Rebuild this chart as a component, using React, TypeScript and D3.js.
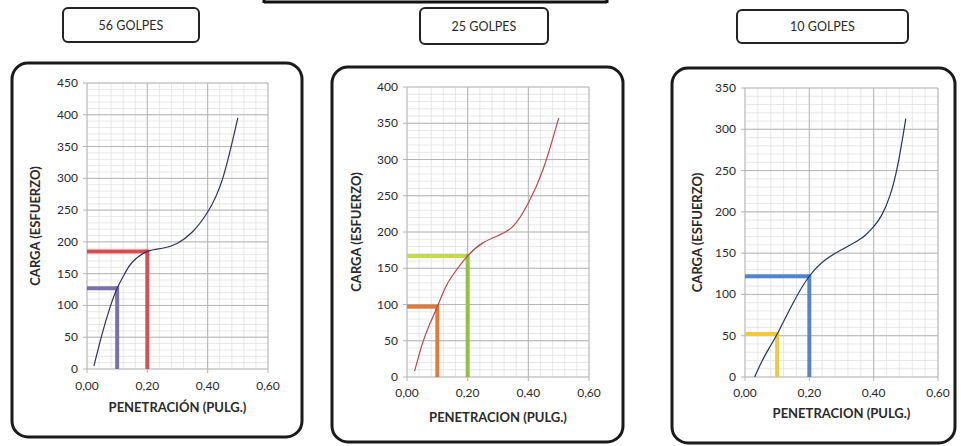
import React from "react";
import * as d3 from "d3";

// ---------- DATA ----------
const titles = ["56 GOLPES", "25 GOLPES", "10 GOLPES"];
const xTitles = ["PENETRACIÓN (PULG.)", "PENETRACION (PULG.)", "PENETRACION (PULG.)"];
const yTitle = "CARGA (ESFUERZO)";
const xTicks = [0, 0.2, 0.4, 0.6];
const yMaxes = [450, 400, 350];

const pen56 = [0.023, 0.05, 0.075, 0.1, 0.125, 0.15, 0.2, 0.25, 0.3, 0.35, 0.4, 0.45, 0.5];
const load56 = [5, 55, 95, 127, 150, 168, 185, 190, 198, 216, 247, 300, 395];

const pen25 = [0.025, 0.05, 0.075, 0.1, 0.125, 0.15, 0.2, 0.25, 0.3, 0.35, 0.4, 0.45, 0.5];
const load25 = [8, 45, 73, 97, 122, 140, 167, 185, 195, 208, 240, 288, 357];

const pen10 = [0.03, 0.05, 0.075, 0.1, 0.15, 0.2, 0.25, 0.3, 0.35, 0.375, 0.4, 0.425, 0.45, 0.475, 0.5];
const load10 = [0, 17, 35, 52, 90, 122, 142, 154, 165, 172, 182, 196, 219, 257, 313];

// reference lines: [penetration, load]
const ref56 = [[0.1, 127], [0.2, 185]];
const ref25 = [[0.1, 97], [0.2, 167]];
const ref10 = [[0.1, 52], [0.2, 122]];

// ---------- STYLE / LAYOUT ----------
const W = 961;
const H = 446;
const FONT = "Lato, 'Open Sans', sans-serif";

type PanelCfg = {
  frame: [number, number, number, number];
  titleBox: [number, number, number, number];
  plot: { x0: number; x1: number; yTop: number; yBot: number };
  yTitleX: number;
  xLabelY: number;
  xTitleY: number;
  curveColor: string;
  refColors: string[];
  refHColors: string[];
};

const panels: PanelCfg[] = [
  {
    frame: [12, 63, 302, 437],
    titleBox: [63, 8, 199, 42],
    plot: { x0: 87, x1: 268, yTop: 83, yBot: 369 },
    yTitleX: 40,
    xLabelY: 390,
    xTitleY: 412,
    curveColor: "#2e3160",
    refColors: ["#7b70ab", "#d44f55"],
    refHColors: ["#7b70ab", "#d44f55"],
  },
  {
    frame: [332, 67, 623, 442],
    titleBox: [420, 8, 548, 44],
    plot: { x0: 407, x1: 589, yTop: 87, yBot: 377 },
    yTitleX: 361,
    xLabelY: 397,
    xTitleY: 422,
    curveColor: "#b8474e",
    refColors: ["#e0793a", "#92c140"],
    refHColors: ["#e0793a", "#c4da4c"],
  },
  {
    frame: [672, 68, 955, 443],
    titleBox: [737, 10, 908, 43],
    plot: { x0: 745, x1: 938, yTop: 88, yBot: 377 },
    yTitleX: 702,
    xLabelY: 397,
    xTitleY: 418,
    curveColor: "#1f3563",
    refColors: ["#f2c83c", "#5186cf"],
    refHColors: ["#f2c83c", "#5186cf"],
  },
];

const dataSets = [
  { pen: pen56, load: load56, ref: ref56 },
  { pen: pen25, load: load25, ref: ref25 },
  { pen: pen10, load: load10, ref: ref10 },
];

function Panel({ i }: { i: number }) {
  const cfg = panels[i];
  const ds = dataSets[i];
  const yMax = yMaxes[i];
  const x = d3.scaleLinear().domain([0, 0.6]).range([cfg.plot.x0, cfg.plot.x1]);
  const y = d3.scaleLinear().domain([0, yMax]).range([cfg.plot.yBot, cfg.plot.yTop]);
  const yTicks = d3.range(0, yMax + 1, 50);
  const minorX = d3.range(0, 0.6001, 0.04);
  const minorY = d3.range(0, yMax + 0.1, 10);
  const pts: [number, number][] = ds.pen.map((p, k) => [p, ds.load[k]]);
  const line = d3
    .line<[number, number]>()
    .x((d) => x(d[0]))
    .y((d) => y(d[1]))
    .curve(d3.curveNatural);
  const [fx0, fy0, fx1, fy1] = cfg.frame;
  const [tx0, ty0, tx1, ty1] = cfg.titleBox;
  const yMid = (cfg.plot.yTop + cfg.plot.yBot) / 2;
  return (
    <g>
      {/* title box */}
      <rect x={tx0} y={ty0} width={tx1 - tx0} height={ty1 - ty0} rx={5} fill="#fff" stroke="#222" strokeWidth={2} />
      <text x={(tx0 + tx1) / 2} y={(ty0 + ty1) / 2 + 4.5} textAnchor="middle" fontFamily={FONT} fontSize={12.5} fill="#2a2a2a">
        {titles[i]}
      </text>
      {/* frame */}
      <rect x={fx0} y={fy0} width={fx1 - fx0} height={fy1 - fy0} rx={16} fill="#fff" stroke="#1a1a1a" strokeWidth={3} />
      {/* minor grid */}
      {minorX.map((v, k) => (
        <line key={"mx" + k} x1={x(v)} x2={x(v)} y1={y(0)} y2={y(yMax)} stroke="#e2e2e2" strokeWidth={0.8} />
      ))}
      {minorY.map((v, k) => (
        <line key={"my" + k} x1={x(0)} x2={x(0.6)} y1={y(v)} y2={y(v)} stroke="#e2e2e2" strokeWidth={0.8} />
      ))}
      {/* major grid */}
      {xTicks.map((v, k) => (
        <line key={"gx" + k} x1={x(v)} x2={x(v)} y1={y(0)} y2={y(yMax)} stroke="#b5b5b5" strokeWidth={1} />
      ))}
      {yTicks.map((v, k) => (
        <line key={"gy" + k} x1={x(0) - 4} x2={x(0.6)} y1={y(v)} y2={y(v)} stroke="#b5b5b5" strokeWidth={1} />
      ))}
      {xTicks.map((v, k) => (
        <line key={"tx" + k} x1={x(v)} x2={x(v)} y1={y(0)} y2={y(0) + 4} stroke="#b5b5b5" strokeWidth={1} />
      ))}
      {/* tick labels */}
      {yTicks.map((v, k) => (
        <text key={"ly" + k} x={x(0) - 9} y={y(v) + 4} textAnchor="end" fontFamily={FONT} fontSize={12} fill="#2a2a2a">
          {v}
        </text>
      ))}
      {xTicks.map((v, k) => (
        <text key={"lx" + k} x={x(v)} y={cfg.xLabelY} textAnchor="middle" fontFamily={FONT} fontSize={12} fill="#2a2a2a">
          {d3.format(".2f")(v).replace(".", ",")}
        </text>
      ))}
      {/* axis titles */}
      <text x={(x(0) + x(0.6)) / 2} y={cfg.xTitleY} textAnchor="middle" fontFamily={FONT} fontSize={13} fontWeight="bold" fill="#2a2a2a">
        {xTitles[i]}
      </text>
      <text
        transform={`translate(${cfg.yTitleX},${yMid}) rotate(-90)`}
        textAnchor="middle"
        fontFamily={FONT}
        fontSize={13}
        fontWeight="bold"
        fill="#2a2a2a"
      >
        {yTitle}
      </text>
      {/* reference lines */}
      {ds.ref.map((r, k) => (
        <g key={"ref" + k}>
          <line x1={x(0)} x2={x(r[0])} y1={y(r[1])} y2={y(r[1])} stroke={cfg.refHColors[k]} strokeWidth={4} />
          <line x1={x(r[0])} x2={x(r[0])} y1={y(r[1]) - 2} y2={y(0)} stroke={cfg.refColors[k]} strokeWidth={4} />
        </g>
      ))}
      {/* curve */}
      <path d={line(pts) || ""} fill="none" stroke={cfg.curveColor} strokeWidth={1.2} />
    </g>
  );
}

export default function App() {
  return (
    <svg width={W} height={H} style={{ position: "absolute", left: 0, top: 0, background: "#fff" }}>
      <rect x={0} y={0} width={W} height={H} fill="#fff" />
      <line x1={264} x2={607} y1={2} y2={2} stroke="#111" strokeWidth={3} />
      <line x1={264} x2={264} y1={0} y2={3} stroke="#111" strokeWidth={3} />
      <line x1={607} x2={607} y1={0} y2={3} stroke="#111" strokeWidth={3} />
      {panels.map((_, i) => (
        <Panel key={i} i={i} />
      ))}
    </svg>
  );
}
